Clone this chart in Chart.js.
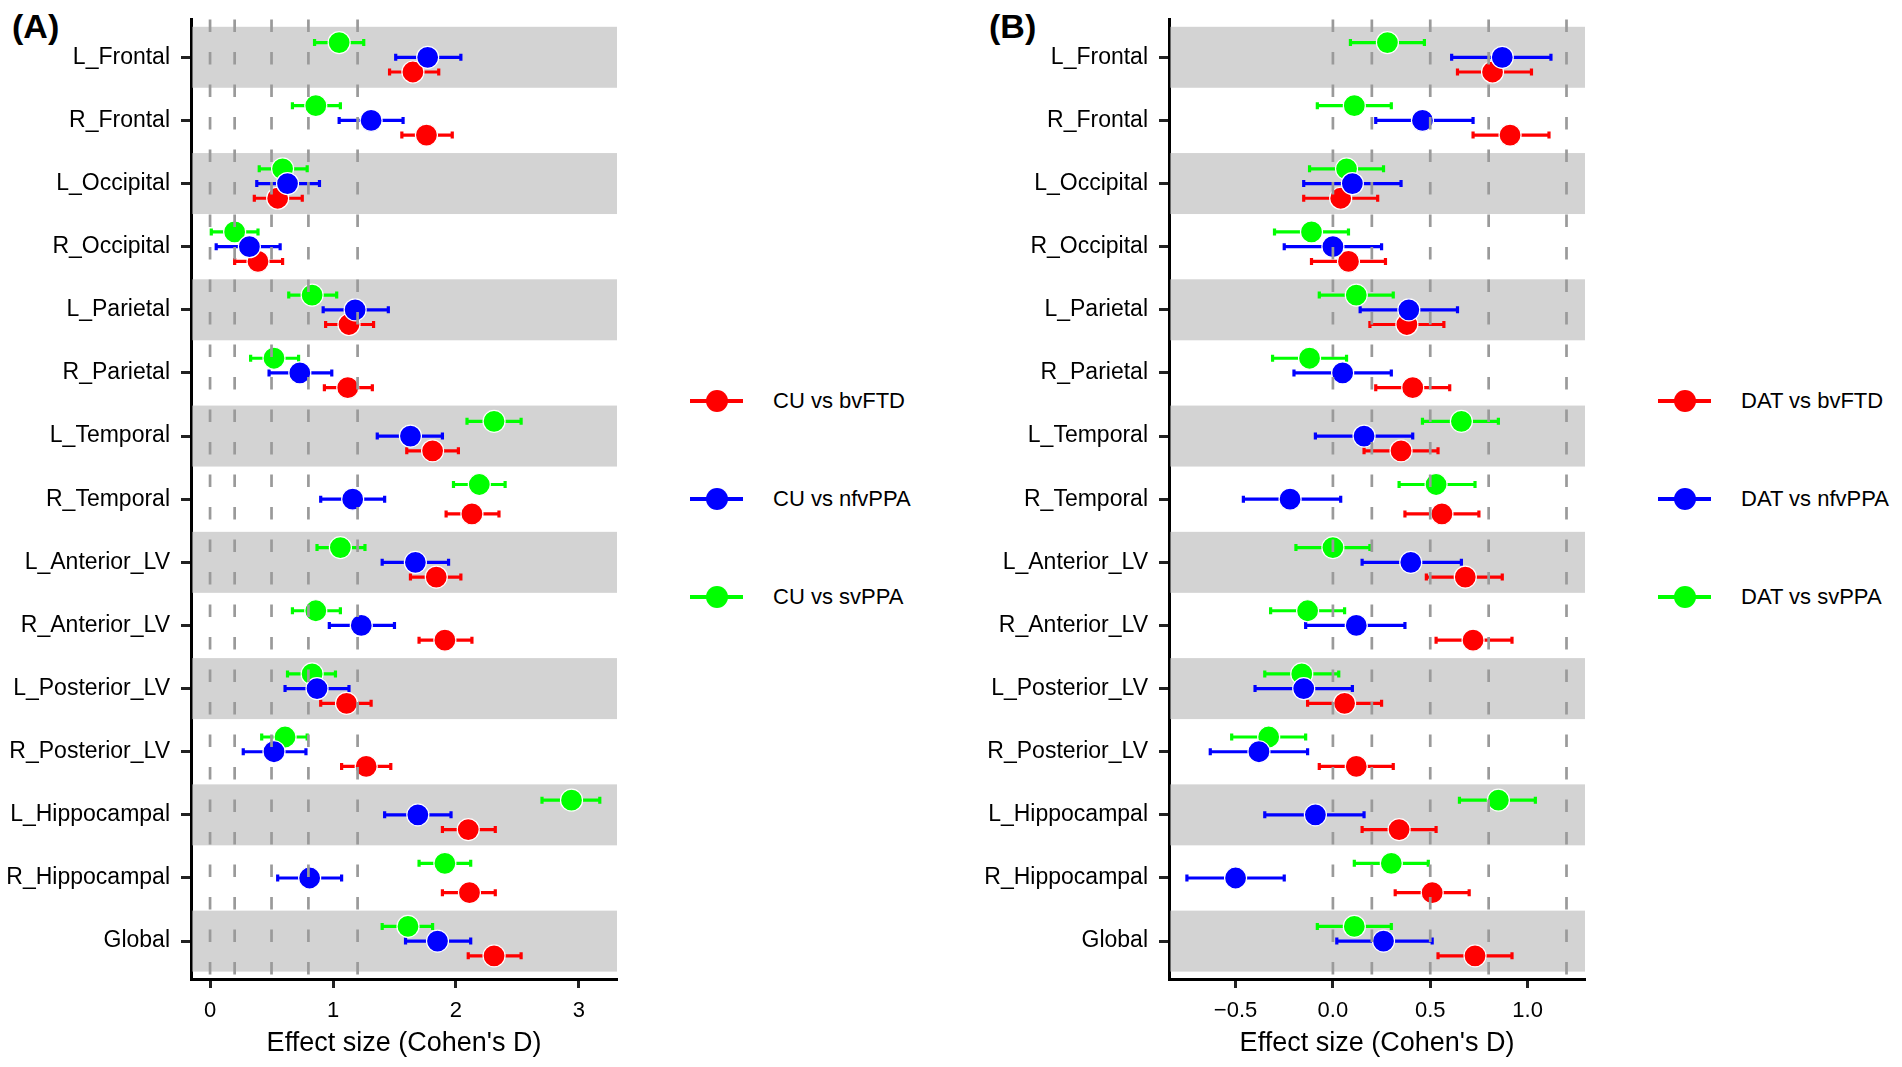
<!DOCTYPE html>
<html>
<head>
<meta charset="utf-8">
<script src="https://cdn.jsdelivr.net/npm/chart.js@4.4.1/dist/chart.umd.min.js"></script>
<style>
html, body { margin: 0; padding: 0; background: #fff; }
body { width: 1902px; height: 1067px; position: relative; overflow: hidden; font-family: "Liberation Sans", Arial, sans-serif; }
canvas { position: absolute; top: 0; }
.tag { position: absolute; top: 9px; font-weight: bold; font-size: 34px; line-height: 34px; color: #000; }
.leg { position: absolute; height: 30px; display: flex; align-items: center; font-size: 22px; color: #000; white-space: nowrap; }
.leg .ln { position: relative; width: 53px; height: 4px; margin-right: 30px; }
.leg .dot { position: absolute; left: 15.5px; top: -9px; width: 22px; height: 22px; border-radius: 50%; }
</style>
</head>
<body>

<div class="tag" style="left:12px">(A)</div>
<div class="tag" style="left:989px">(B)</div>

<canvas id="chartA" width="660" height="1067" style="left:0px;width:660px;height:1067px"></canvas>
<canvas id="chartB" width="660" height="1067" style="left:960px;width:660px;height:1067px"></canvas>

<script>
var regions = ['L_Frontal', 'R_Frontal', 'L_Occipital', 'R_Occipital', 'L_Parietal', 'R_Parietal',
    'L_Temporal', 'R_Temporal', 'L_Anterior_LV', 'R_Anterior_LV', 'L_Posterior_LV', 'R_Posterior_LV',
    'L_Hippocampal', 'R_Hippocampal', 'Global'];

// panel A: CU vs ...
var cuBvftd   = [1.65, 1.76, 0.55, 0.39, 1.13, 1.12, 1.81, 2.13, 1.84, 1.91, 1.11, 1.27, 2.10, 2.11, 2.31];
var cuBvftdLo = [1.46, 1.56, 0.36, 0.20, 0.94, 0.93, 1.60, 1.92, 1.63, 1.70, 0.90, 1.07, 1.89, 1.89, 2.10];
var cuBvftdHi = [1.86, 1.97, 0.75, 0.59, 1.33, 1.32, 2.02, 2.35, 2.04, 2.13, 1.31, 1.47, 2.32, 2.32, 2.53];

var cuNfvppa   = [1.77, 1.31, 0.63, 0.32, 1.18, 0.73, 1.63, 1.16, 1.67, 1.23, 0.87, 0.52, 1.69, 0.81, 1.85];
var cuNfvppaLo = [1.51, 1.05, 0.38, 0.05, 0.92, 0.48, 1.36, 0.90, 1.40, 0.97, 0.61, 0.27, 1.42, 0.55, 1.59];
var cuNfvppaHi = [2.04, 1.57, 0.89, 0.57, 1.45, 0.99, 1.89, 1.42, 1.94, 1.50, 1.13, 0.78, 1.96, 1.07, 2.12];

var cuSvppa   = [1.05, 0.86, 0.59, 0.20, 0.83, 0.52, 2.31, 2.19, 1.06, 0.86, 0.83, 0.61, 2.94, 1.91, 1.61];
var cuSvppaLo = [0.85, 0.67, 0.40, 0.01, 0.64, 0.33, 2.09, 1.98, 0.87, 0.67, 0.63, 0.42, 2.70, 1.70, 1.40];
var cuSvppaHi = [1.25, 1.06, 0.79, 0.39, 1.03, 0.72, 2.53, 2.40, 1.26, 1.06, 1.02, 0.79, 3.17, 2.12, 1.81];

// panel B: DAT vs ...
var datBvftd   = [0.82, 0.91, 0.04, 0.08, 0.38, 0.41, 0.35, 0.56, 0.68, 0.72, 0.06, 0.12, 0.34, 0.51, 0.73];
var datBvftdLo = [0.64, 0.72, -0.15, -0.11, 0.19, 0.22, 0.16, 0.37, 0.48, 0.53, -0.13, -0.07, 0.15, 0.32, 0.54];
var datBvftdHi = [1.02, 1.11, 0.23, 0.27, 0.57, 0.60, 0.54, 0.75, 0.87, 0.92, 0.25, 0.31, 0.53, 0.70, 0.92];

var datNfvppa   = [0.87, 0.46, 0.10, 0.00, 0.39, 0.05, 0.16, -0.22, 0.40, 0.12, -0.15, -0.38, -0.09, -0.50, 0.26];
var datNfvppaLo = [0.61, 0.22, -0.15, -0.25, 0.14, -0.20, -0.09, -0.46, 0.15, -0.14, -0.40, -0.63, -0.35, -0.75, 0.02];
var datNfvppaHi = [1.12, 0.72, 0.35, 0.25, 0.64, 0.30, 0.41, 0.04, 0.66, 0.37, 0.10, -0.13, 0.16, -0.25, 0.51];

var datSvppa   = [0.28, 0.11, 0.07, -0.11, 0.12, -0.12, 0.66, 0.53, 0.00, -0.13, -0.16, -0.33, 0.85, 0.30, 0.11];
var datSvppaLo = [0.09, -0.08, -0.12, -0.30, -0.07, -0.31, 0.46, 0.34, -0.19, -0.32, -0.35, -0.52, 0.65, 0.11, -0.08];
var datSvppaHi = [0.47, 0.30, 0.26, 0.08, 0.31, 0.07, 0.85, 0.73, 0.19, 0.06, 0.03, -0.14, 1.04, 0.49, 0.30];

var labelsA = ['CU vs bvFTD', 'CU vs nfvPPA', 'CU vs svPPA'];
var labelsB = ['DAT vs bvFTD', 'DAT vs nfvPPA', 'DAT vs svPPA'];
var thresholds = [0, 0.2, 0.5, 0.8, 1.2];
var ticksA = [0, 1, 2, 3];
var tickLabelsA = ['0', '1', '2', '3'];
var ticksB = [-0.5, 0, 0.5, 1.0];
var tickLabelsB = ['\u22120.5', '0.0', '0.5', '1.0'];

var colors = ['#ff0000', '#0000ff', '#00ff00'];
var FONT = '"Liberation Sans", Arial, sans-serif';

// grey bands + error bars under the points, dashed thresholds over everything
var decor = {
    id: 'decor',
    beforeDatasetsDraw(chart) {
        var ctx = chart.ctx, a = chart.chartArea, x = chart.scales.x, y = chart.scales.y;
        ctx.save();
        ctx.fillStyle = '#d3d3d3';
        for (let i = 0; i < regions.length; i += 2) {
            var t = y.getPixelForValue(i + 1 - 0.483), b = y.getPixelForValue(i + 1 + 0.483);
            ctx.fillRect(a.left + 1.5, t, a.right - a.left - 1.5, b - t);
        }
        chart.data.datasets.forEach(function (ds) {
            ctx.strokeStyle = ds.backgroundColor;
            ctx.lineWidth = 3.2;
            ds.data.forEach(function (p, i) {
                var yy = y.getPixelForValue(p.y);
                var x0 = x.getPixelForValue(ds.lo[i]), x1 = x.getPixelForValue(ds.hi[i]);
                ctx.beginPath();
                ctx.moveTo(x0, yy); ctx.lineTo(x1, yy);
                ctx.moveTo(x0, yy - 3.5); ctx.lineTo(x0, yy + 3.5);
                ctx.moveTo(x1, yy - 3.5); ctx.lineTo(x1, yy + 3.5);
                ctx.stroke();
            });
        });
        ctx.restore();
    },
    afterDatasetsDraw(chart) {
        var ctx = chart.ctx, a = chart.chartArea, x = chart.scales.x;
        ctx.save();
        ctx.strokeStyle = '#9a9a9a';
        ctx.lineWidth = 2.7;
        ctx.setLineDash([12.7, 19.8]);
        thresholds.forEach(function (v) {
            var px = x.getPixelForValue(v);
            ctx.beginPath();
            ctx.moveTo(px, a.top);
            ctx.lineTo(px, a.bottom);
            ctx.stroke();
        });
        ctx.restore();
    }
};

function makeSet(label, color, est, lo, hi, off, order) {
    return {
        label: label,
        data: est.map(function (v, i) { return { x: v, y: i + 1 + off }; }),
        lo: lo,
        hi: hi,
        backgroundColor: color,
        borderColor: '#ffffff',
        borderWidth: 1.2,
        pointRadius: 11,
        pointHoverRadius: 11,
        order: order
    };
}

function makeChart(id, sets, xmin, xmax, xt, xtl, yw, padRight) {
    return new Chart(document.getElementById(id), {
        type: 'scatter',
        data: { datasets: sets },
        options: {
            responsive: false,
            animation: false,
            devicePixelRatio: 1,
            layout: { padding: { top: 19.4, right: padRight, left: 0, bottom: 0 } },
            plugins: { legend: { display: false }, tooltip: { enabled: false } },
            scales: {
                x: {
                    type: 'linear', min: xmin, max: xmax,
                    afterBuildTicks: function (s) { s.ticks = xt.map(function (v) { return { value: v }; }); },
                    afterFit: function (s) { s.height = 88; s.paddingLeft = 0; s.paddingRight = 0; },
                    ticks: {
                        callback: function (v, i) { return xtl[i]; },
                        color: '#000', font: { size: 22, family: FONT }, padding: 9.5, maxRotation: 0
                    },
                    grid: { drawOnChartArea: false, drawTicks: true, tickLength: 9, tickWidth: 3, tickColor: '#222' },
                    border: { display: true, color: '#000', width: 3 },
                    title: {
                        display: true, text: "Effect size (Cohen's D)", color: '#000',
                        font: { size: 27, family: FONT }, padding: { top: 0, bottom: 7 }
                    }
                },
                y: {
                    type: 'linear', reverse: true, min: 0.4, max: 15.6,
                    afterBuildTicks: function (s) { s.ticks = regions.map(function (r, i) { return { value: i + 1 }; }); },
                    afterFit: function (s) { s.width = yw; s.paddingTop = 0; s.paddingBottom = 0; },
                    ticks: {
                        callback: function (v) { return regions[Math.round(v) - 1]; },
                        color: '#000', font: { size: 23, family: FONT }, padding: 11, autoSkip: false
                    },
                    grid: { drawOnChartArea: false, drawTicks: true, tickLength: 10, tickWidth: 3, tickColor: '#222' },
                    border: { display: true, color: '#000', width: 3 }
                }
            }
        },
        plugins: [decor]
    });
}

makeChart('chartA', [
    makeSet(labelsA[0], colors[0], cuBvftd, cuBvftdLo, cuBvftdHi, 0.233, 1),
    makeSet(labelsA[1], colors[1], cuNfvppa, cuNfvppaLo, cuNfvppaHi, 0, 0),
    makeSet(labelsA[2], colors[2], cuSvppa, cuSvppaLo, cuSvppaHi, -0.233, 2)
], -0.155, 3.31, ticksA, tickLabelsA, 191, 43);

makeChart('chartB', [
    makeSet(labelsB[0], colors[0], datBvftd, datBvftdLo, datBvftdHi, 0.233, 1),
    makeSet(labelsB[1], colors[1], datNfvppa, datNfvppaLo, datNfvppaHi, 0, 0),
    makeSet(labelsB[2], colors[2], datSvppa, datSvppaLo, datSvppaHi, -0.233, 2)
], -0.842, 1.295, ticksB, tickLabelsB, 209, 35);

// legends
function addLegend(labels, left) {
    var ys = [401, 499, 597];
    labels.forEach(function (t, i) {
        var d = document.createElement('div');
        d.className = 'leg';
        d.style.left = left + 'px';
        d.style.top = (ys[i] - 15) + 'px';
        d.innerHTML = '<span class="ln" style="background:' + colors[i] + '"><span class="dot" style="background:' + colors[i] + '"></span></span>' + t;
        document.body.appendChild(d);
    });
}
addLegend(labelsA, 690);
addLegend(labelsB, 1658);
</script>
</body>
</html>
